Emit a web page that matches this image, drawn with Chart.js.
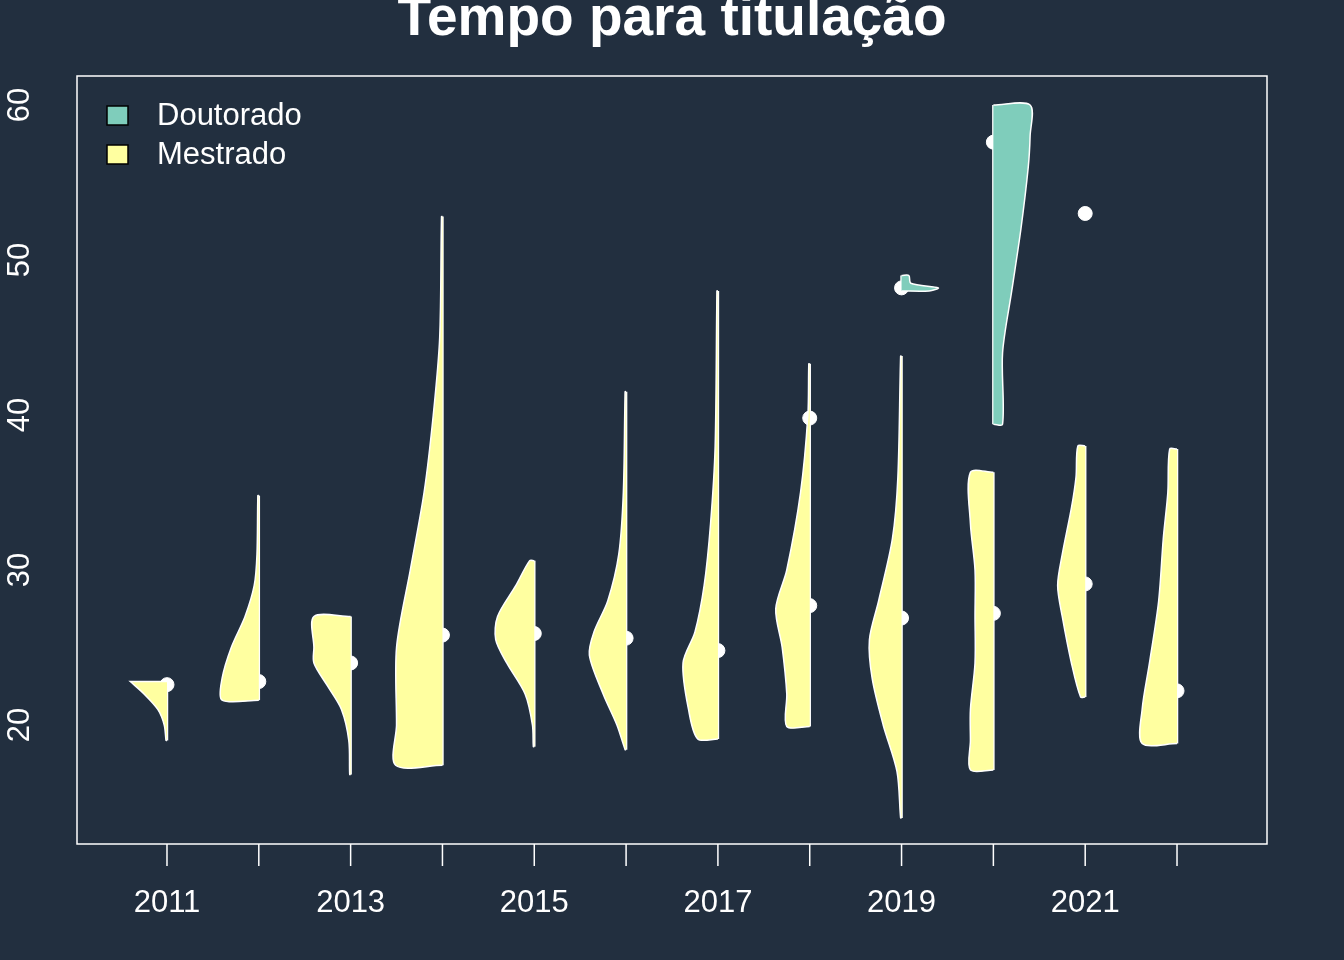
<!DOCTYPE html>
<html>
<head>
<meta charset="utf-8">
<script src="https://cdn.jsdelivr.net/npm/chart.js@4"></script>
<style>
  html, body { margin: 0; background: #222f3f; }
  #wrap { width: 1344px; height: 960px; }
</style>
</head>
<body>
<div id="wrap"><canvas id="chart"></canvas></div>
<script>
// Anos e valores
const years = [2011, 2012, 2013, 2014, 2015, 2016, 2017, 2018, 2019, 2020, 2021, 2022];
const yTicks = [20, 30, 40, 50, 60];
const xLabels = [2011, 2013, 2015, 2017, 2019, 2021];

// Mestrado: níveis (y) e meia-largura da densidade (em anos), lado esquerdo
const mestLevels = [
  [19, 20, 21, 22, 22.8, 22.8],
  [21.6, 21.6, 23, 25, 27, 29, 31, 34.8],
  [16.8, 19, 21, 22.5, 24, 25, 27, 27],
  [17.4, 17.4, 20, 25, 30, 35, 40, 45, 52.8],
  [18.6, 20, 22, 24, 25.5, 27, 29, 30.6],
  [18.4, 20, 22, 24.5, 26, 28, 31, 35, 41.5],
  [19.1, 19.1, 21, 24, 26, 29, 33, 38, 48],
  [19.9, 19.9, 22, 25, 27.5, 30, 35, 40, 43.3],
  [14, 17, 20, 23, 25.5, 28, 32, 36, 43.8],
  [17.1, 17.1, 19, 21, 24, 27, 30, 33, 36.3, 36.3],
  [21.8, 21.8, 24, 27, 29, 31, 34, 36, 38, 38],
  [18.8, 18.8, 21, 24, 28, 32, 35, 37.8, 37.8]
];
const mestWidths = [
  [0.01, 0.03, 0.1, 0.25, 0.4, 0.4],
  [0, 0.4, 0.4, 0.3, 0.15, 0.05, 0.02, 0.01],
  [0.01, 0.02, 0.1, 0.25, 0.4, 0.4, 0.4, 0],
  [0, 0.51, 0.5, 0.5, 0.35, 0.2, 0.1, 0.03, 0.01],
  [0.01, 0.02, 0.1, 0.3, 0.42, 0.4, 0.2, 0.05],
  [0.01, 0.1, 0.25, 0.4, 0.35, 0.2, 0.08, 0.03, 0.01],
  [0, 0.22, 0.32, 0.38, 0.25, 0.15, 0.08, 0.03, 0.01],
  [0, 0.25, 0.25, 0.3, 0.37, 0.25, 0.1, 0.02, 0.01],
  [0.01, 0.05, 0.2, 0.32, 0.35, 0.25, 0.1, 0.04, 0.01],
  [0, 0.25, 0.25, 0.25, 0.2, 0.2, 0.2, 0.25, 0.25, 0],
  [0, 0.05, 0.15, 0.25, 0.3, 0.25, 0.15, 0.1, 0.08, 0],
  [0, 0.38, 0.38, 0.3, 0.2, 0.15, 0.1, 0.08, 0]
];
const mestMedian = [22.6, 22.8, 24, 25.8, 25.9, 25.6, 24.8, 27.7, 26.9, 27.2, 29.1, 22.2];

// Doutorado: lado direito
const doutYears = [2019, 2020];
const doutLevels = [
  [48, 48, 48.2, 48.5, 49, 49],
  [39.4, 39.4, 44, 48, 52, 56, 58, 60, 60]
];
const doutWidths = [
  [0, 0.3, 0.4, 0.1, 0.08, 0],
  [0, 0.1, 0.1, 0.2, 0.3, 0.38, 0.4, 0.4, 0]
];
const doutMedianYears = [2018, 2019, 2020, 2021];
const doutMedian = [39.8, 48.2, 57.6, 53];

const cMest = '#ffffa0';
const cDout = '#7fcdbb';

function halfViolin(year, levels, widths, side) {
  const pts = [{ x: year, y: levels[0] }];
  levels.forEach((y, i) => pts.push({ x: year + side * widths[i], y: y }));
  pts.push({ x: year, y: levels[levels.length - 1] });
  return pts;
}

const datasets = [];
years.forEach((yr, i) => {
  datasets.push({
    type: 'line', data: halfViolin(yr, mestLevels[i], mestWidths[i], -1),
    borderColor: '#ffffff', borderWidth: 1.5, backgroundColor: cMest,
    pointRadius: 0, fill: false, tension: 0.3, violin: true
  });
  // linha central (boxplot simplificado)
  datasets.push({
    type: 'line', data: [{ x: yr, y: mestLevels[i][0] }, { x: yr, y: mestLevels[i][mestLevels[i].length - 1] }],
    borderColor: '#ffffff', borderWidth: 2.5, pointRadius: 0, fill: false
  });
});
doutYears.forEach((yr, i) => {
  datasets.push({
    type: 'line', data: halfViolin(yr, doutLevels[i], doutWidths[i], 1),
    borderColor: '#ffffff', borderWidth: 1.5, backgroundColor: cDout,
    pointRadius: 0, fill: false, tension: 0.3, violin: true
  });
  datasets.push({
    type: 'line', data: [{ x: yr, y: doutLevels[i][0] }, { x: yr, y: doutLevels[i][doutLevels[i].length - 1] }],
    borderColor: '#ffffff', borderWidth: 2.5, pointRadius: 0, fill: false
  });
});
datasets.push({
  type: 'scatter', data: years.map((yr, i) => ({ x: yr, y: mestMedian[i] })),
  backgroundColor: '#ffffff', borderColor: '#ffffff', pointRadius: 7
});
datasets.push({
  type: 'scatter', data: doutMedianYears.map((yr, i) => ({ x: yr, y: doutMedian[i] })),
  backgroundColor: '#ffffff', borderColor: '#ffffff', pointRadius: 7
});

// Preenche cada meio-violino seguindo as curvas da linha
const violinFill = {
  id: 'violinFill',
  beforeDatasetDraw(chart, args) {
    const ds = chart.data.datasets[args.index];
    if (!ds.violin) return;
    const pts = args.meta.data;
    const ctx = chart.ctx;
    ctx.save();
    ctx.beginPath();
    pts.forEach((p, i) => {
      if (!i) { ctx.moveTo(p.x, p.y); return; }
      const q = pts[i - 1];
      if (q.cp2x !== undefined && p.cp1x !== undefined) {
        ctx.bezierCurveTo(q.cp2x, q.cp2y, p.cp1x, p.cp1y, p.x, p.y);
      } else {
        ctx.lineTo(p.x, p.y);
      }
    });
    ctx.closePath();
    ctx.fillStyle = ds.backgroundColor;
    ctx.fill();
    ctx.restore();
  }
};

// Moldura, eixos, título e legenda no estilo R
const decor = {
  id: 'decor',
  afterDraw(chart) {
    const ctx = chart.ctx, a = chart.chartArea;
    const xs = chart.scales.x, ys = chart.scales.y;
    ctx.save();
    ctx.strokeStyle = '#ffffff';
    ctx.lineWidth = 1.5;
    ctx.strokeRect(a.left, a.top, a.right - a.left, a.bottom - a.top);
    ctx.fillStyle = '#ffffff';
    ctx.font = '31px "Liberation Sans", Arial, sans-serif';
    ctx.beginPath();
    years.forEach(yr => {
      const px = xs.getPixelForValue(yr);
      ctx.moveTo(px, a.bottom); ctx.lineTo(px, a.bottom + 22);
    });
    ctx.stroke();
    ctx.textAlign = 'center'; ctx.textBaseline = 'middle';
    xLabels.forEach(yr => ctx.fillText(String(yr), xs.getPixelForValue(yr), 903));
    yTicks.forEach(v => {
      const py = ys.getPixelForValue(v);
      ctx.save();
      ctx.translate(20, py);
      ctx.rotate(-Math.PI / 2);
      ctx.fillText(String(v), 0, 0);
      ctx.restore();
    });
    ctx.font = 'bold 55px "Liberation Sans", Arial, sans-serif';
    ctx.fillText('Tempo para titulação', 672, 20);
    // legenda
    ctx.font = '31px "Liberation Sans", Arial, sans-serif';
    ctx.textAlign = 'left';
    [['Doutorado', cDout, 116], ['Mestrado', cMest, 155]].forEach(([t, c, y]) => {
      ctx.fillStyle = c;
      ctx.fillRect(107, y - 10, 21, 19);
      ctx.strokeStyle = '#000000'; ctx.lineWidth = 1.5;
      ctx.strokeRect(107, y - 10, 21, 19);
      ctx.fillStyle = '#ffffff';
      ctx.fillText(t, 157, y);
    });
    ctx.restore();
  }
};

new Chart(document.getElementById('chart'), {
  data: { datasets: datasets },
  options: {
    responsive: true,
    maintainAspectRatio: false,
    animation: false,
    layout: { padding: { top: 76, right: 77, left: 0, bottom: 0 } },
    plugins: { legend: { display: false }, tooltip: { enabled: false } },
    scales: {
      x: {
        type: 'linear', min: 2010.02, max: 2022.98,
        grid: { display: false }, border: { display: false },
        ticks: { display: false },
        afterFit(s) { s.height = 116; }
      },
      y: {
        type: 'linear', min: 12.32, max: 61.87,
        grid: { display: false }, border: { display: false },
        ticks: { display: false },
        afterFit(s) { s.width = 77; }
      }
    }
  },
  plugins: [violinFill, decor]
});
</script>
</body>
</html>
